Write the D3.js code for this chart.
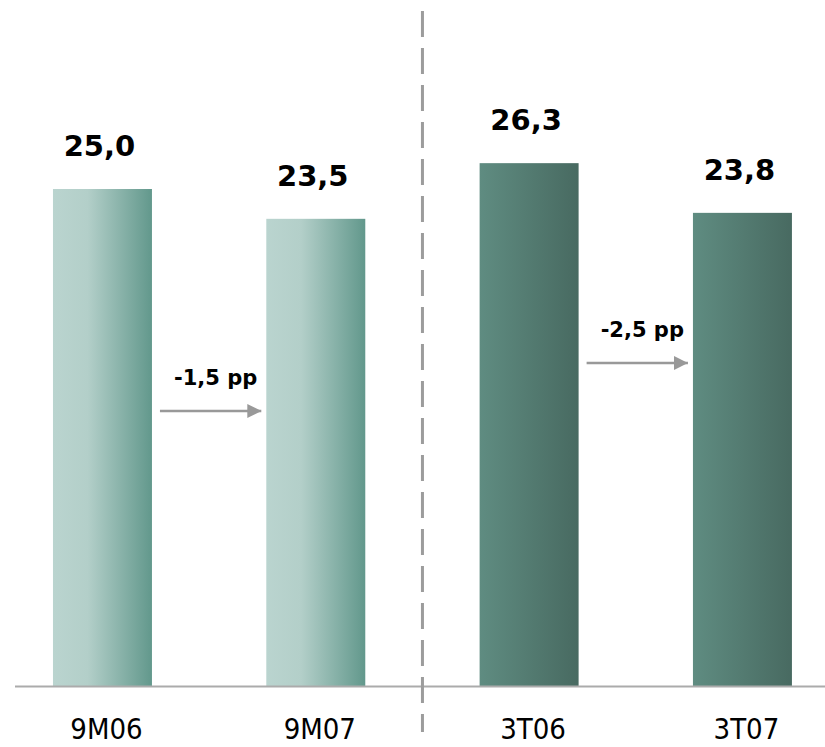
<!DOCTYPE html>
<html>
<head>
<meta charset="utf-8">
<script src="https://cdn.jsdelivr.net/npm/d3@7/dist/d3.min.js"></script>
<style>
  html, body { margin: 0; padding: 0; background: #fff; }
  svg { display: block; }
</style>
</head>
<body>
<svg id="chart" width="825" height="747"></svg>
<script>
// Values
const categories = ["9M06", "9M07", "3T06", "3T07"];
const values = [25.0, 23.5, 26.3, 23.8];
const valueLabels = ["25,0", "23,5", "26,3", "23,8"];
const groups = ["acum", "acum", "trim", "trim"];
// Change annotations between consecutive bars
const changeFrom = ["9M06", "3T06"];
const changeTo = ["9M07", "3T07"];
const changeLabels = ["-1,5 pp", "-2,5 pp"];

const W = 825, H = 747;
const baseY = 686;
const svg = d3.select("#chart");

const x = d3.scaleBand()
  .domain(categories)
  .range([-4.2, 849.1])
  .paddingInner(0.536)
  .paddingOuter(0.268);

const y = d3.scaleLinear()
  .domain([0, 25])
  .range([baseY, 189]);

// Gradients for the two bar groups
const defs = svg.append("defs");
const gAcum = defs.append("linearGradient").attr("id", "grad-acum")
  .attr("x1", "0%").attr("x2", "100%").attr("y1", "0%").attr("y2", "0%");
gAcum.append("stop").attr("offset", "0%").attr("stop-color", "#bad4cf");
gAcum.append("stop").attr("offset", "35%").attr("stop-color", "#b3cfc9");
gAcum.append("stop").attr("offset", "100%").attr("stop-color", "#62988c");
const gTrim = defs.append("linearGradient").attr("id", "grad-trim")
  .attr("x1", "0%").attr("x2", "100%").attr("y1", "0%").attr("y2", "0%");
gTrim.append("stop").attr("offset", "0%").attr("stop-color", "#5f8c81");
gTrim.append("stop").attr("offset", "100%").attr("stop-color", "#486a61");

const arrowHead = defs.append("marker").attr("id", "arrowhead")
  .attr("viewBox", "0 0 10 10").attr("refX", 10).attr("refY", 5)
  .attr("markerUnits", "userSpaceOnUse")
  .attr("markerWidth", 14).attr("markerHeight", 15)
  .attr("orient", "auto");
arrowHead.append("path").attr("d", "M0,0 L10,5 L0,10 Z").attr("fill", "#999");

// Bars
svg.selectAll("rect.bar")
  .data(categories)
  .enter().append("rect")
  .attr("class", "bar")
  .attr("x", d => x(d))
  .attr("width", x.bandwidth())
  .attr("y", (d, i) => y(values[i]))
  .attr("height", (d, i) => baseY - y(values[i]))
  .attr("fill", (d, i) => groups[i] === "acum" ? "url(#grad-acum)" : "url(#grad-trim)");

// Baseline
svg.append("line")
  .attr("x1", 15).attr("x2", W)
  .attr("y1", baseY + 0.5).attr("y2", baseY + 0.5)
  .attr("stroke", "#ababab").attr("stroke-width", 2);

// Separator between cumulative and quarterly groups
const sepX = (x("9M07") + x.bandwidth() + x("3T06")) / 2;
svg.append("line")
  .attr("x1", sepX).attr("x2", sepX)
  .attr("y1", 11).attr("y2", 732)
  .attr("stroke", "#9c9c9c").attr("stroke-width", 3)
  .attr("stroke-dasharray", "26,11");

// Value labels
svg.selectAll("text.val")
  .data(categories)
  .enter().append("text")
  .attr("class", "val")
  .attr("x", (d, i) => x(d) + x.bandwidth() / 2 - 3)
  .attr("y", (d, i) => y(values[i]) - 33)
  .attr("text-anchor", "middle")
  .attr("font-family", "DejaVu Sans, Verdana, sans-serif")
  .attr("font-weight", "bold")
  .attr("font-size", 29)
  .attr("fill", "#000")
  .text((d, i) => valueLabels[i]);

// Category labels
svg.selectAll("text.cat")
  .data(categories)
  .enter().append("text")
  .attr("class", "cat")
  .attr("x", d => x(d) + x.bandwidth() / 2 + 4)
  .attr("y", 739)
  .attr("text-anchor", "middle")
  .attr("font-family", "DejaVu Sans Condensed, DejaVu Sans, sans-serif")
  .attr("font-stretch", "condensed")
  .attr("font-size", 29)
  .attr("fill", "#000")
  .text(d => d);

// Change arrows
const arrowY = [411, 363];
changeFrom.forEach((from, i) => {
  const x0 = x(from) + x.bandwidth() + 8;
  const x1 = x(changeTo[i]) - 5;
  svg.append("line")
    .attr("x1", x0).attr("x2", x1)
    .attr("y1", arrowY[i]).attr("y2", arrowY[i])
    .attr("stroke", "#999").attr("stroke-width", 2.5)
    .attr("marker-end", "url(#arrowhead)");
  svg.append("text")
    .attr("x", (x0 + x1) / 2 + 5)
    .attr("y", arrowY[i] - 26)
    .attr("text-anchor", "middle")
    .attr("font-family", "DejaVu Sans, Verdana, sans-serif")
    .attr("font-weight", "bold")
    .attr("font-size", 21)
    .attr("fill", "#000")
    .text(changeLabels[i]);
});
</script>
</body>
</html>
